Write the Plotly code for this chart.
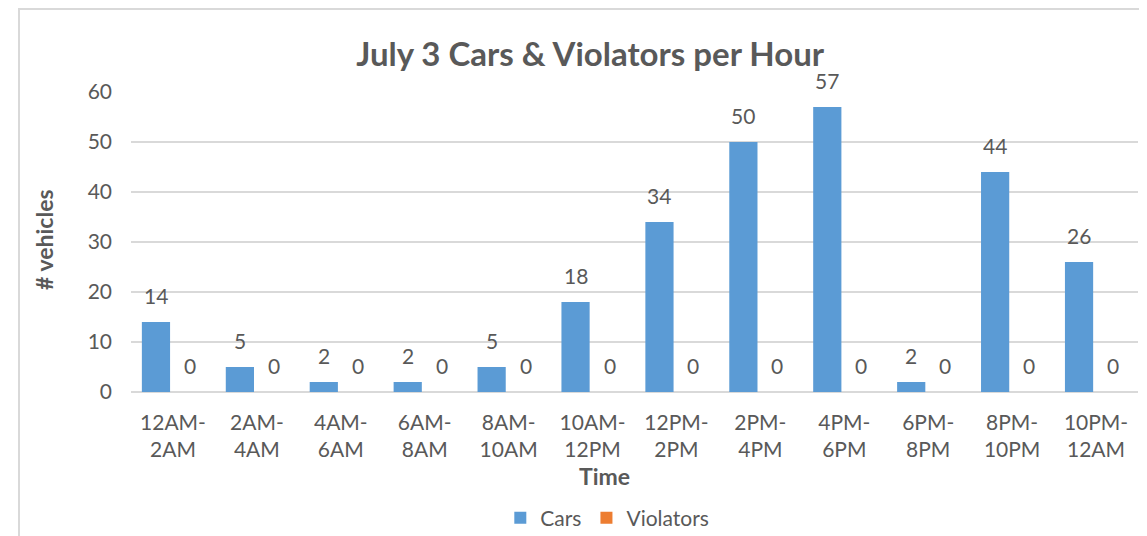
import plotly.graph_objects as go

categories = ["12AM-<br>2AM", "2AM-<br>4AM", "4AM-<br>6AM", "6AM-<br>8AM", "8AM-<br>10AM",
              "10AM-<br>12PM", "12PM-<br>2PM", "2PM-<br>4PM", "4PM-<br>6PM", "6PM-<br>8PM",
              "8PM-<br>10PM", "10PM-<br>12AM"]
cars = [14, 5, 2, 2, 5, 18, 34, 50, 57, 2, 44, 26]
violators = [0, 0, 0, 0, 0, 0, 0, 0, 0, 0, 0, 0]

FONT = "Lato"
GRAY = "#595959"
CARS_COLOR = "#5B9BD5"
VIOL_COLOR = "#ED7D31"

W, H = 1139, 528

fig = go.Figure()
fig.add_trace(go.Bar(name="Cars", x=categories, y=cars, marker_color=CARS_COLOR,
                     marker_line_width=0))
fig.add_trace(go.Bar(name="Violators", x=categories, y=violators, marker_color=VIOL_COLOR,
                     marker_line_width=0))

annotations = []
for cat, c, v in zip(categories, cars, violators):
    annotations.append(dict(x=cat, y=c, xref="x", yref="y", text=str(c), showarrow=False,
                            yanchor="bottom", yshift=12, xshift=-17,
                            font=dict(family=FONT, size=21, color=GRAY)))
    annotations.append(dict(x=cat, y=v, xref="x", yref="y", text=str(v), showarrow=False,
                            yanchor="bottom", yshift=12, xshift=17,
                            font=dict(family=FONT, size=21, color=GRAY)))

annotations.append(dict(text="# vehicles", x=-0.0864, y=0.507, xref="paper", yref="paper",
                        textangle=-90, showarrow=False, xanchor="center", yanchor="middle",
                        font=dict(family=FONT, size=23, color=GRAY, weight="bold")))
annotations.append(dict(text="Time", x=0.47, y=-0.28, xref="paper", yref="paper",
                        showarrow=False, xanchor="center", yanchor="middle",
                        font=dict(family=FONT, size=23, color=GRAY, weight="bold")))

fig.update_layout(
    width=W, height=H,
    margin=dict(l=123, r=9, t=84, b=144, autoexpand=False),
    paper_bgcolor="white", plot_bgcolor="white",
    barmode="group", bargap=0.19, bargroupgap=0.17,
    title=dict(text="July 3 Cars & Violators per Hour", x=0.456, xref="paper",
               y=1 - 46 / H, yref="container", xanchor="center", yanchor="middle",
               font=dict(family=FONT, size=33, color=GRAY, weight="bold")),
    font=dict(family=FONT, size=21, color=GRAY),
    showlegend=True,
    legend=dict(orientation="h", x=0.473, y=-0.42, xanchor="center", yanchor="middle",
                font=dict(family=FONT, size=21, color=GRAY), itemwidth=30),
    annotations=annotations,
    shapes=[dict(type="rect", xref="paper", yref="paper", x0=-0.1112, x1=1.02,
                 y0=-0.5, y1=1.2767, line=dict(color="#D9D9D9", width=2), layer="below")],
)
fig.update_yaxes(range=[0, 60], dtick=10, showgrid=True, gridcolor="#D9D9D9", gridwidth=1.5,
                 zeroline=True, zerolinecolor="#D9D9D9", zerolinewidth=2,
                 showline=False, ticks="", ticklabelstandoff=18, automargin=False,
                 tickfont=dict(family=FONT, size=21, color=GRAY))
fig.update_xaxes(showgrid=False, showline=False, ticks="", ticklabelstandoff=16, automargin=False,
                 tickfont=dict(family=FONT, size=21, color=GRAY))

fig.write_html("out.html")
